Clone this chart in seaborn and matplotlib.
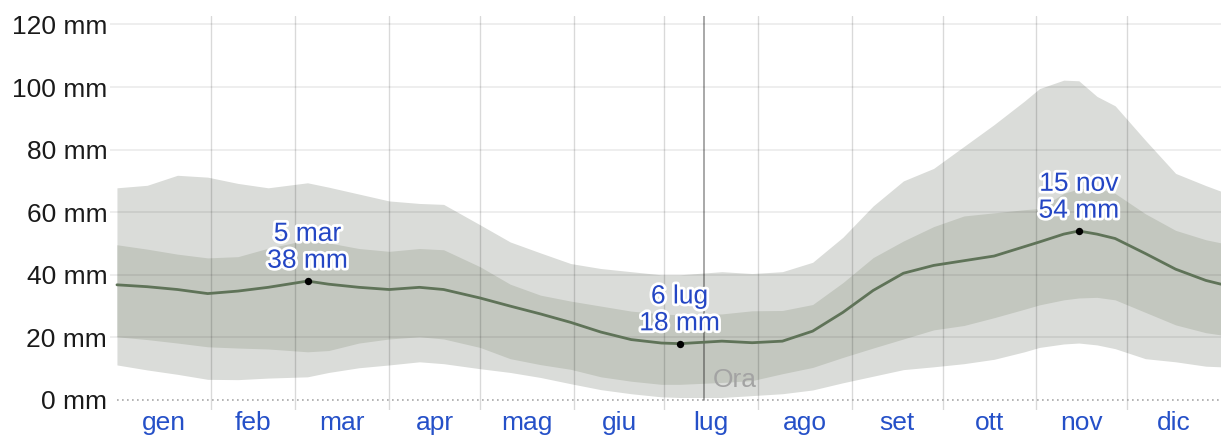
import matplotlib
matplotlib.use("Agg")
import matplotlib.pyplot as plt
import matplotlib.patheffects as pe
import pandas as pd
import seaborn as sns

# day of year (0 = 1 Jan) and rainfall percentiles in mm (31-day sliding total)
days = [0, 10, 20, 30, 40, 50, 63, 70, 80, 90, 100, 108, 120, 130, 140, 150, 160, 170,
        180, 186, 200, 210, 220, 230, 240, 250, 260, 270, 280, 290, 300, 305, 313, 318, 324,
        330, 340, 350, 360, 365]
p10 = [11.2, 9.6, 8.2, 6.6, 6.5, 7.0, 7.4, 8.8, 10.3, 11.2, 12.2, 11.6, 10.0, 8.8, 7.2, 5.2,
       3.3, 2.0, 1.0, 0.8, 0.8, 1.4, 2.0, 3.2, 5.5, 7.6, 9.7, 10.6, 11.6, 13.0, 15.4, 16.8,
       17.9, 18.2, 17.6, 16.4, 13.2, 12.2, 10.8, 10.6]
p25 = [20.2, 19.3, 18.2, 17.0, 16.6, 16.3, 15.4, 15.8, 18.2, 19.5, 20.2, 19.5, 16.8, 13.2,
       11.3, 9.8, 7.4, 6.0, 5.0, 5.0, 5.6, 6.2, 8.4, 10.4, 13.6, 16.6, 19.5, 22.4, 23.8, 26.3,
       29.0, 30.4, 32.0, 32.6, 32.8, 32.0, 28.0, 24.0, 21.5, 20.8]
p50 = [36.8, 36.2, 35.3, 34.0, 34.8, 36.0, 38.0, 37.0, 36.0, 35.3, 36.0, 35.3, 32.6, 30.0,
       27.5, 24.8, 21.7, 19.3, 18.2, 18.0, 18.8, 18.3, 18.8, 22.0, 28.0, 35.0, 40.5, 43.0,
       44.5, 46.0, 49.0, 50.5, 53.0, 54.0, 53.0, 51.6, 46.8, 41.8, 38.2, 37.0]
p75 = [49.6, 48.2, 46.6, 45.4, 45.8, 48.5, 51.2, 50.2, 48.4, 47.5, 48.4, 48.0, 42.6, 37.0,
       33.5, 31.6, 30.0, 28.4, 27.5, 27.2, 27.5, 28.5, 28.6, 30.5, 37.5, 45.5, 50.8, 55.4,
       58.8, 59.8, 60.8, 61.2, 66.0, 67.5, 67.8, 66.0, 59.5, 54.2, 51.2, 50.2]
p90 = [67.8, 68.6, 71.8, 71.2, 69.2, 67.8, 69.4, 68.0, 65.8, 63.6, 62.8, 62.5, 56.0, 50.5,
       47.0, 43.6, 42.0, 41.0, 40.0, 40.0, 41.0, 40.4, 41.0, 44.0, 52.0, 62.0, 70.0, 74.0,
       81.0, 88.0, 95.5, 99.5, 102.2, 102.0, 97.0, 94.0, 83.0, 72.4, 68.5, 66.7]

months = ["gen", "feb", "mar", "apr", "mag", "giu", "lug", "ago", "set", "ott", "nov", "dic"]
month_starts = [0, 31, 59, 90, 120, 151, 181, 212, 243, 273, 304, 334, 365]
y_ticks = [0, 20, 40, 60, 80, 100, 120]

peak_days = [63, 186, 318]
peak_values = [38, 18, 54]
peak_labels = ["5 mar\n38 mm", "6 lug\n18 mm", "15 nov\n54 mm"]
now_day = 194

df = pd.DataFrame({"day": days, "p10": p10, "p25": p25, "p50": p50, "p75": p75, "p90": p90})
peaks = pd.DataFrame({"day": peak_days, "mm": peak_values, "label": peak_labels})

sns.set_style("white")
plt.rcParams["font.family"] = ["Liberation Sans", "DejaVu Sans"]

fig = plt.figure(figsize=(12.21, 4.40), dpi=100)
ax = fig.add_axes([110 / 1221, 30 / 440, 1111 / 1221, 394 / 440])
ymin, ymax = -3.2, 122.7
ax.set_xlim(-2.3, 365)
ax.set_ylim(ymin, ymax)

ax.fill_between(df["day"], df["p10"], df["p90"], color="#dadcd9", lw=0, zorder=1)
ax.fill_between(df["day"], df["p25"], df["p75"], color="#c3c7bf", lw=0, zorder=1.1)

# grid
for v in y_ticks[1:]:
    ax.axhline(v, color=(0, 0, 0, 0.08), lw=1.2, zorder=2)
for d in month_starts[1:-1]:
    ax.axvline(d, color=(0, 0, 0, 0.15), lw=1, zorder=2)
ax.hlines(0, 0, 365, color="#a8a8a8", lw=1.2, linestyle=(0, (1, 2)), zorder=2)
ax.axvline(now_day, ymin=(0 - ymin) / (ymax - ymin), color=(0, 0, 0, 0.4), lw=1.2, zorder=2)
ax.text(now_day + 3, 2.5, "Ora", color="#a3a3a3", fontsize=19, ha="left", va="bottom", zorder=4)

sns.lineplot(data=df, x="day", y="p50", color="#5f7358", lw=2, ax=ax, zorder=3)
sns.scatterplot(data=peaks, x="day", y="mm", color="black", s=28, linewidth=0, ax=ax, zorder=5)
for _, r in peaks.iterrows():
    ax.annotate(r["label"], (r["day"], r["mm"]), xytext=(0, 6), textcoords="offset points",
                ha="center", va="bottom", fontsize=19, color="#2446c4", linespacing=1.15,
                zorder=6, path_effects=[pe.withStroke(linewidth=4, foreground="white")])

centers = [(month_starts[i] + month_starts[i + 1]) / 2 for i in range(12)]
ax.set_xticks(centers)
ax.set_xticklabels(months, color="#2550c8", fontsize=19)
ax.set_yticks(y_ticks)
ax.set_yticklabels([f"{v} mm" for v in y_ticks], color="#1a1a1a", fontsize=19)
ax.tick_params(axis="both", length=0)
ax.tick_params(axis="y", pad=2)
ax.tick_params(axis="x", pad=1)
ax.set_xlabel("")
ax.set_ylabel("")
sns.despine(ax=ax, left=True, bottom=True)

fig.savefig("out.png", dpi=100)
